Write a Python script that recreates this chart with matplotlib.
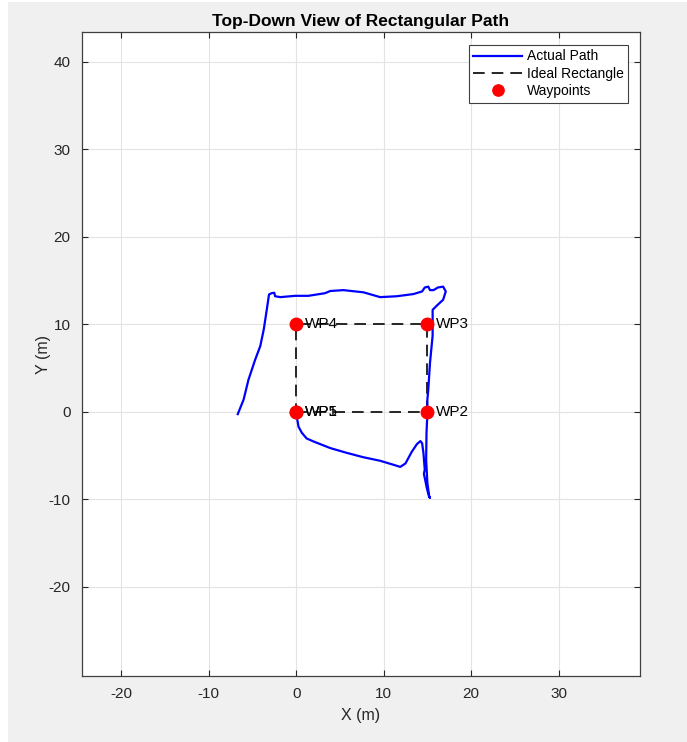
import matplotlib
matplotlib.use("Agg")
import matplotlib.pyplot as plt
from matplotlib.patches import Rectangle

plt.rcParams['font.family'] = ['Liberation Sans', 'DejaVu Sans']
plt.rcParams['axes.unicode_minus'] = False

# Recorded vehicle trajectory (m)
path_x = [0.0, 0.1, 0.27, 0.65, 1.2, 2.0, 3.9, 5.8, 7.7, 9.6, 11.1, 11.9, 12.5, 13.2,
          13.8, 14.2, 14.4, 14.55, 14.65, 14.7, 14.6, 14.75, 14.95, 15.2, 15.3, 15.2,
          15.0, 14.86, 14.9, 15.0, 15.0, 15.1, 15.3, 15.6, 15.6, 15.6, 16.1, 16.8,
          17.1, 16.8, 16.2, 15.7, 15.3, 15.1, 14.7, 14.4, 13.4, 11.5, 9.6, 7.7, 5.4,
          3.9, 3.3, 1.4, -0.1, -1.8, -2.4, -2.5, -2.8, -3.1, -3.35, -3.7, -4.1, -4.7,
          -5.45, -6.0, -6.67]
path_y = [0.0, -0.7, -1.7, -2.4, -3.05, -3.4, -4.15, -4.7, -5.2, -5.6, -6.05, -6.3, -5.9,
          -4.6, -3.7, -3.35, -3.6, -4.7, -6.0, -6.6, -7.1, -7.8, -8.8, -9.7, -9.85,
          -9.6, -8.15, -5.5, -2.4, -0.2, 1.4, 2.5, 5.6, 8.7, 10.6, 11.65, 12.15, 12.8,
          13.75, 14.3, 14.2, 13.9, 13.9, 14.3, 14.2, 13.75, 13.45, 13.2, 13.1, 13.65,
          13.9, 13.8, 13.55, 13.25, 13.25, 13.1, 13.2, 13.6, 13.55, 13.4, 11.7, 9.4,
          7.5, 5.9, 3.65, 1.4, -0.27]

# Waypoints of the planned rectangle (m)
wp_x = [0, 15, 15, 0, 0]
wp_y = [0, 0, 10, 10, 0]
wp_labels = ['WP1', 'WP2', 'WP3', 'WP4', 'WP5']

x_ticks = [-20, -10, 0, 10, 20, 30]
y_ticks = [-20, -10, 0, 10, 20, 30, 40]

fig = plt.figure(figsize=(6.87, 7.42), dpi=100, facecolor='#f0f0f0')
fig.patches.append(Rectangle((0, 0), 8 / 687, 1, transform=fig.transFigure,
                             facecolor='white', edgecolor='none', zorder=-10))
fig.patches.append(Rectangle((0, 1 - 2 / 742), 1, 2 / 742, transform=fig.transFigure,
                             facecolor='white', edgecolor='none', zorder=-10))

ax = fig.add_axes([0.119, 0.0889, 0.8126, 0.868])
ax.set_facecolor('white')

ax.plot(path_x, path_y, color='#0000ff', lw=1.6, label='Actual Path', zorder=3)
ax.plot(wp_x, wp_y, color='#262626', lw=1.4, dashes=(6, 3.6),
        label='Ideal Rectangle', zorder=2)
ax.plot(wp_x, wp_y, linestyle='none', marker='o', markersize=9,
        color='#ff0000', markeredgecolor='#ff0000', label='Waypoints', zorder=4)

for x, y, name in zip(wp_x, wp_y, wp_labels):
    ax.text(x + 1.0, y, name, fontsize=11, va='center', ha='left',
            color='black', zorder=5)

ax.set_xlim(-24.5, 39.3)
ax.set_ylim(-30.2, 43.4)
ax.set_xticks(x_ticks)
ax.set_yticks(y_ticks)
ax.grid(True, color='#e3e3e3', lw=0.8)
ax.set_axisbelow(True)
ax.tick_params(direction='in', length=4, width=0.8, top=True, right=True,
               labelsize=11, colors='#262626', pad=8)
for s in ax.spines.values():
    s.set_color('#404040')
    s.set_linewidth(0.9)

ax.set_title('Top-Down View of Rectangular Path', fontsize=12.5,
             fontweight='bold', pad=4)
ax.set_xlabel('X (m)', fontsize=11.5, color='#262626', labelpad=5)
ax.set_ylabel('Y (m)', fontsize=11.5, color='#262626', labelpad=-2)

leg = ax.legend(loc='upper right', bbox_to_anchor=(0.9785, 0.9798),
                borderaxespad=0, fontsize=10, handlelength=3.5,
                handletextpad=0.35, labelspacing=0.24, borderpad=0.32,
                markerscale=0.9, fancybox=False, framealpha=1,
                edgecolor='#404040')
leg.get_frame().set_linewidth(0.8)

fig.savefig('out.png', dpi=100, facecolor=fig.get_facecolor())
